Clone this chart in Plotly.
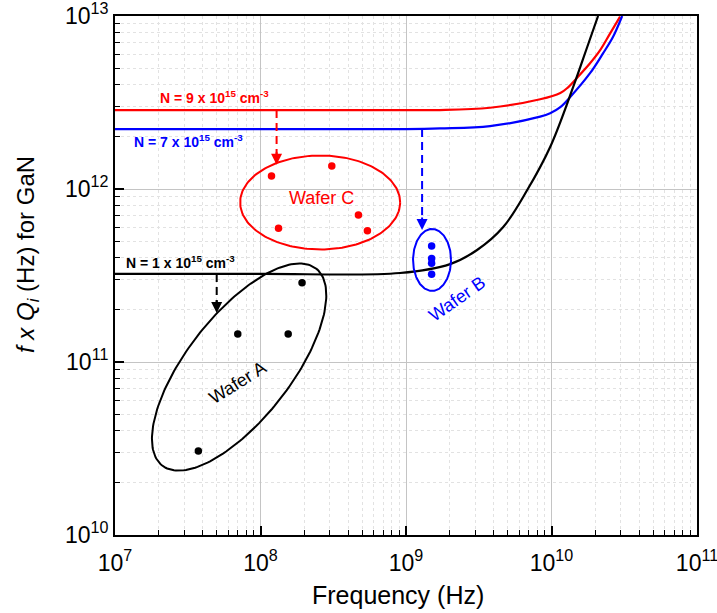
import numpy as np
import plotly.graph_objects as go

# f x Q curves for three doping levels (N in cm^-3)
freq_n9 = [1e7, 1e8, 1e9, 1.71e9, 3.78e9, 8.36e9, 1.15e10, 1.30e10, 1.49e10, 1.84e10, 2.16e10, 2.53e10, 2.96e10]
fq_n9 = [2.86e12, 2.86e12, 2.86e12, 2.86e12, 2.95e12, 3.30e12, 3.59e12, 3.87e12, 4.37e12, 5.33e12, 6.35e12, 7.94e12, 9.91e12]

freq_n7 = [1e7, 1e8, 1e9, 1.71e9, 3.78e9, 8.36e9, 9.79e9, 1.15e10, 1.34e10, 1.84e10, 2.26e10, 2.65e10, 3.06e10]
fq_n7 = [2.22e12, 2.22e12, 2.22e12, 2.24e12, 2.31e12, 2.62e12, 2.74e12, 2.97e12, 3.39e12, 4.67e12, 6.08e12, 7.59e12, 1.0e13]

freq_n1 = [1e7, 1e8, 9.1e8, 2.01e9, 3.08e9, 4.66e9, 6.81e9, 9.79e9, 1.41e10, 1.76e10, 2.09e10]
fq_n1 = [3.23e11, 3.23e11, 3.27e11, 3.68e11, 4.44e11, 6.03e11, 9.86e11, 1.75e12, 3.89e12, 6.62e12, 1.0e13]

# Measured resonators
wafer_a_f = [3.74e7, 6.98e7, 1.55e8, 1.93e8]
wafer_a_fq = [3.06e10, 1.45e11, 1.45e11, 2.87e11]
wafer_b_f = [1.5e9, 1.5e9, 1.5e9, 1.5e9]
wafer_b_fq = [4.69e11, 3.97e11, 3.72e11, 3.21e11]
wafer_c_f = [1.19e8, 3.09e8, 4.71e8, 1.33e8, 5.43e8]
wafer_c_fq = [1.19e12, 1.36e12, 7.08e11, 5.93e11, 5.74e11]

x_ticks = [1e7, 1e8, 1e9, 1e10, 1e11]
x_tick_text = ["10<sup>7</sup>", "10<sup>8</sup>", "10<sup>9</sup>", "10<sup>10</sup>", "10<sup>11</sup>"]
y_ticks = [1e10, 1e11, 1e12, 1e13]
y_tick_text = ["10<sup>10</sup>", "10<sup>11</sup>", "10<sup>12</sup>", "10<sup>13</sup>"]

RED, BLUE, BLACK = "#ff0000", "#0000ff", "#000000"
FONT = "Liberation Sans, Arial, sans-serif"

W, H = 717, 613
M = dict(l=115, r=20, t=16, b=78, autoexpand=False)
X_RANGE = [7, 11]
Y_RANGE = [10, 13]
PLOT_W = W - M["l"] - M["r"]
PLOT_H = H - M["t"] - M["b"]
PX_PER_DEC_X = PLOT_W / (X_RANGE[1] - X_RANGE[0])
PX_PER_DEC_Y = PLOT_H / (Y_RANGE[1] - Y_RANGE[0])
EPS = 1e-6


def ellipse(cf, cv, a_px, b_px, angle_deg=0.0, n=200):
    """Outline of an ellipse given in screen pixels, centred on (cf, cv)."""
    t = np.linspace(0, 2 * np.pi, n)
    th = np.radians(angle_deg)
    dx = a_px * np.cos(t) * np.cos(th) - b_px * np.sin(t) * np.sin(th)
    dy = a_px * np.cos(t) * np.sin(th) + b_px * np.sin(t) * np.cos(th)
    lx = np.log10(cf) + dx / PX_PER_DEC_X
    ly = np.log10(cv) + dy / PX_PER_DEC_Y
    return 10 ** lx, 10 ** ly


def paper_xy(px, py):
    """Convert page pixel position to paper coordinates."""
    return (px - M["l"]) / PLOT_W, (H - M["b"] - py) / PLOT_H


fig = go.Figure()

for fx, fy, col in [(freq_n9, fq_n9, RED), (freq_n7, fq_n7, BLUE), (freq_n1, fq_n1, BLACK)]:
    fig.add_trace(go.Scatter(x=fx, y=fy, mode="lines",
                             line=dict(color=col, width=2.2, shape="spline", smoothing=1.0),
                             hoverinfo="skip", showlegend=False))

# Group outlines
for (cf, cv, a, b, ang, col) in [
    (2.57e8, 8.36e11, 80, 47, 0, RED),
    (1.51e9, 3.89e11, 19, 31, 0, BLUE),
    (7.13e7, 9.35e10, 125, 52, 52, BLACK),
]:
    ex, ey = ellipse(cf, cv, a, b, ang)
    fig.add_trace(go.Scatter(x=ex, y=ey, mode="lines", line=dict(color=col, width=2),
                             hoverinfo="skip", showlegend=False))

for fx, fy, col in [(wafer_a_f, wafer_a_fq, BLACK), (wafer_b_f, wafer_b_fq, BLUE), (wafer_c_f, wafer_c_fq, RED)]:
    fig.add_trace(go.Scatter(x=fx, y=fy, mode="markers",
                             marker=dict(color=col, size=7.5, line=dict(width=0)),
                             showlegend=False))

# Dashed drop arrows from each curve to its wafer group
arrows = [
    (1.29e8, 2.86e12, 1.38e12, RED),
    (1.29e9, 2.22e12, 5.8e11, BLUE),
    (5.0e7, 3.23e11, 1.92e11, BLACK),
]
annotations = []
for af, top, tip, col in arrows:
    fig.add_trace(go.Scatter(x=[af, af], y=[top, tip * 1.12], mode="lines",
                             line=dict(color=col, width=2, dash="8px,5px"),
                             hoverinfo="skip", showlegend=False))
    annotations.append(dict(x=np.log10(af), y=np.log10(tip), xref="x", yref="y",
                            ax=0, ay=-14, text="", showarrow=True,
                            arrowhead=2, arrowsize=1.1, arrowwidth=2, arrowcolor=col,
                            standoff=0))

label_font = dict(family=FONT, size=14)
annotations += [
    dict(x=7.296, y=12.534, xref="x", yref="y", xanchor="left", yanchor="middle",
         text="<b>N = 9 x 10<sup>15</sup> cm<sup>-3</sup></b>", showarrow=False,
         font=dict(label_font, color=RED)),
    dict(x=7.115, y=12.277, xref="x", yref="y", xanchor="left", yanchor="middle",
         text="<b>N = 7 x 10<sup>15</sup> cm<sup>-3</sup></b>", showarrow=False,
         font=dict(label_font, color=BLUE)),
    dict(x=7.062, y=11.580, xref="x", yref="y", xanchor="left", yanchor="middle",
         text="<b>N = 1 x 10<sup>15</sup> cm<sup>-3</sup></b>", showarrow=False,
         font=dict(label_font, color=BLACK)),
    dict(x=8.421, y=11.946, xref="x", yref="y", text="Wafer C", showarrow=False,
         font=dict(family=FONT, size=18, color=RED)),
    dict(x=9.351, y=11.364, xref="x", yref="y", text="Wafer B", showarrow=False,
         textangle=-35, font=dict(family=FONT, size=18, color=BLUE)),
    dict(x=7.839, y=10.879, xref="x", yref="y", text="Wafer A", showarrow=False,
         textangle=-32, font=dict(family=FONT, size=18, color=BLACK)),
]

# Axis titles
tx, ty = paper_xy(398, 595)
annotations.append(dict(x=tx, y=ty, xref="paper", yref="paper", text="Frequency (Hz)",
                        showarrow=False, font=dict(family=FONT, size=25, color=BLACK),
                        xanchor="center", yanchor="middle"))
tx, ty = paper_xy(27, 255)
annotations.append(dict(x=tx, y=ty, xref="paper", yref="paper",
                        text="<i>f x Q</i><sub><i>i</i></sub> (Hz) for GaN", textangle=-90,
                        showarrow=False, font=dict(family=FONT, size=24, color=BLACK),
                        xanchor="center", yanchor="middle"))

axis_common = dict(
    type="log", ticks="inside", ticklen=9, tickwidth=1.5, tickcolor=BLACK,
    showline=True, linewidth=2, linecolor=BLACK, mirror=True,
    showgrid=True, gridcolor="#c4c4c4", gridwidth=1,
    tickfont=dict(family=FONT, size=23, color=BLACK),
    ticklabeloverflow="allow", automargin=False,
    minor=dict(ticks="inside", ticklen=5, tickwidth=1.2, tickcolor=BLACK,
               dtick="D1", showgrid=True, gridcolor="#e2e2e2", griddash="dot", gridwidth=1),
    zeroline=False,
)

fig.update_layout(
    width=W, height=H, margin=M,
    paper_bgcolor="white", plot_bgcolor="white",
    xaxis=dict(axis_common, range=[X_RANGE[0] - EPS, X_RANGE[1] + EPS],
               tickmode="array", tickvals=x_ticks, ticktext=x_tick_text,
               ticklabelstandoff=6),
    yaxis=dict(axis_common, range=[Y_RANGE[0] - EPS, Y_RANGE[1] + EPS],
               tickmode="array", tickvals=y_ticks, ticktext=y_tick_text),
    annotations=annotations,
    showlegend=False,
)

fig.write_html("out.html")
